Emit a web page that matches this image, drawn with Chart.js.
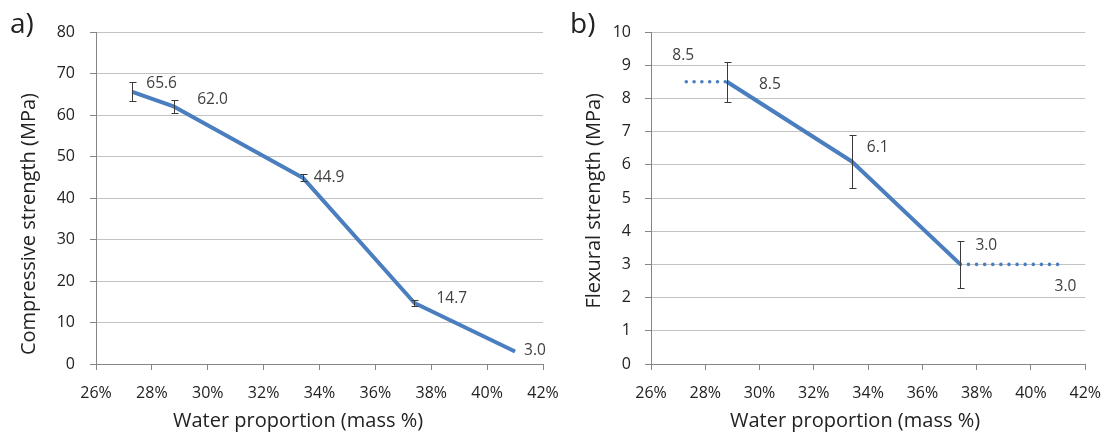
<!DOCTYPE html>
<html>
<head>
<meta charset="utf-8">
<script src="https://cdn.jsdelivr.net/npm/chart.js@4"></script>
<style>
body { margin: 0; background: #fff; }
#wrap { position: relative; width: 1115px; height: 432px; }
#wrap canvas { position: absolute; left: 0; top: 0; }
</style>
</head>
<body>
<div id="wrap">
<canvas id="chartA" width="1115" height="432"></canvas>
<canvas id="chartB" width="1115" height="432"></canvas>
</div>
<script>
// a) compressive strength vs water proportion
var waterA = [27.3, 28.8, 33.4, 37.4, 41.0];
var compressive = [65.6, 62.0, 44.9, 14.7, 3.0];
var compressiveErr = [2.3, 1.6, 0.9, 0.8, 0];

// b) flexural strength vs water proportion
var waterB = [28.8, 33.4, 37.4];
var flexural = [8.5, 6.1, 3.0];
var flexuralErr = [0.6, 0.8, 0.7];
// dotted extensions
var waterBLow = [27.3, 28.8];
var flexuralLow = [8.5, 8.5];
var waterBHigh = [37.4, 41.0];
var flexuralHigh = [3.0, 3.0];

var xMin = 26, xMax = 42, xStep = 2;

var blue = '#4a7ebf';
var textDark = '#222222';
var axisGray = '#868686';
var gridGray = '#c3c3c3';

Chart.defaults.font.family = '"Open Sans", sans-serif';
Chart.defaults.color = textDark;

function toPoints(xs, ys) {
	var pts = [];
	for (var i = 0; i < xs.length; i++) {
		pts.push({x: xs[i], y: ys[i]});
	}
	return pts;
}

// error bars, value labels, axis titles, panel letter
function makeExtras(cfg) {
	return {
		id: 'extras',
		afterDatasetsDraw: function(chart) {
			var ctx = chart.ctx, xs = chart.scales.x, ys = chart.scales.y;
			ctx.save();
			ctx.strokeStyle = '#3a3a3a';
			ctx.lineWidth = 1;
			for (var i = 0; i < cfg.errX.length; i++) {
				if (!cfg.errV[i]) continue;
				var px = Math.round(xs.getPixelForValue(cfg.errX[i])) + 0.5;
				var top = Math.round(ys.getPixelForValue(cfg.errY[i] + cfg.errV[i])) + 0.5;
				var bot = Math.round(ys.getPixelForValue(cfg.errY[i] - cfg.errV[i])) + 0.5;
				ctx.beginPath();
				ctx.moveTo(px, top); ctx.lineTo(px, bot);
				ctx.moveTo(px - 3, top); ctx.lineTo(px + 4, top);
				ctx.moveTo(px - 3, bot); ctx.lineTo(px + 4, bot);
				ctx.stroke();
			}

			ctx.fillStyle = '#404040';
			ctx.font = '15.5px "Open Sans"';
			ctx.textAlign = 'left';
			ctx.textBaseline = 'middle';
			for (var j = 0; j < cfg.lblX.length; j++) {
				var lx = xs.getPixelForValue(cfg.lblX[j]) + cfg.lblOff[j][0];
				var ly = ys.getPixelForValue(cfg.lblY[j]) + cfg.lblOff[j][1];
				ctx.fillText(cfg.lblY[j].toFixed(1), lx, ly);
			}

			ctx.fillStyle = textDark;
			ctx.textBaseline = 'alphabetic';
			ctx.font = '20px "Open Sans"';
			ctx.fillText(cfg.xTitle, cfg.xTitlePos[0], cfg.xTitlePos[1]);

			ctx.save();
			ctx.translate(cfg.yTitlePos[0], cfg.yTitlePos[1]);
			ctx.rotate(-Math.PI / 2);
			ctx.textAlign = 'right';
			ctx.fillText(cfg.yTitle, 0, 0);
			ctx.restore();

			ctx.font = '28px "Open Sans"';
			ctx.textAlign = 'left';
			ctx.fillText(cfg.letter, cfg.letterPos[0], cfg.letterPos[1]);
			ctx.restore();
		}
	};
}

function makeOptions(pad, yWidth, yMax, yStep, yPad) {
	return {
		responsive: false,
		animation: false,
		layout: { padding: pad },
		plugins: { legend: { display: false }, tooltip: { enabled: false } },
		scales: {
			x: {
				type: 'linear',
				min: xMin, max: xMax,
				afterFit: function(scale) { scale.height = 68; },
				ticks: {
					stepSize: xStep,
					padding: 14,
					font: { size: 16 },
					color: textDark,
					callback: function(v) { return v + '%'; }
				},
				grid: { drawOnChartArea: false, drawTicks: true, tickLength: 6, tickColor: axisGray },
				border: { color: axisGray, width: 1 }
			},
			y: {
				min: 0, max: yMax,
				afterFit: function(scale) { scale.width = yWidth; },
				ticks: { stepSize: yStep, padding: yPad, font: { size: 16 }, color: textDark },
				grid: { color: gridGray, tickLength: 6, tickColor: axisGray },
				border: { color: axisGray, width: 1 }
			}
		}
	};
}

var chartA = new Chart(document.getElementById('chartA'), {
	type: 'line',
	data: {
		datasets: [{
			data: toPoints(waterA, compressive),
			borderColor: blue,
			borderWidth: 4,
			pointRadius: 0,
			tension: 0,
			borderJoinStyle: 'round'
		}]
	},
	options: makeOptions({top: 32, left: 0, right: 572, bottom: 0}, 96, 80, 10, 15),
	plugins: [makeExtras({
		errX: waterA, errY: compressive, errV: compressiveErr,
		lblX: waterA, lblY: compressive,
		lblOff: [[14, -8.5], [23, -7], [11, 0], [22, -4], [9, -1]],
		xTitle: 'Water proportion (mass %)', xTitlePos: [173, 427],
		yTitle: 'Compressive strength (MPa)', yTitlePos: [35, 93],
		letter: 'a)', letterPos: [10, 33]
	})]
});

var chartB = new Chart(document.getElementById('chartB'), {
	type: 'line',
	data: {
		datasets: [{
			data: toPoints(waterB, flexural),
			borderColor: blue,
			borderWidth: 4,
			pointRadius: 0,
			tension: 0,
			borderJoinStyle: 'round'
		}, {
			data: toPoints(waterBLow, flexuralLow),
			borderColor: blue,
			borderWidth: 3.6,
			borderDash: [0, 7.8],
			borderCapStyle: 'round',
			pointRadius: 0
		}, {
			data: toPoints(waterBHigh, flexuralHigh),
			borderColor: blue,
			borderWidth: 3.6,
			borderDash: [0, 8.1],
			borderCapStyle: 'round',
			pointRadius: 0
		}]
	},
	options: makeOptions({top: 32, left: 557, right: 21, bottom: 0}, 94, 10, 1, 14),
	plugins: [makeExtras({
		errX: waterB, errY: flexural, errV: flexuralErr,
		lblX: [waterBLow[0]].concat(waterB, [waterBHigh[1]]),
		lblY: [flexuralLow[0]].concat(flexural, [flexuralHigh[1]]),
		lblOff: [[-14, -26.5], [32, 2.5], [15, -14], [15, -18.5], [-3.5, 22]],
		xTitle: 'Water proportion (mass %)', xTitlePos: [730, 427],
		yTitle: 'Flexural strength (MPa)', yTitlePos: [600, 93],
		letter: 'b)', letterPos: [570, 33]
	})]
});
</script>
</body>
</html>
